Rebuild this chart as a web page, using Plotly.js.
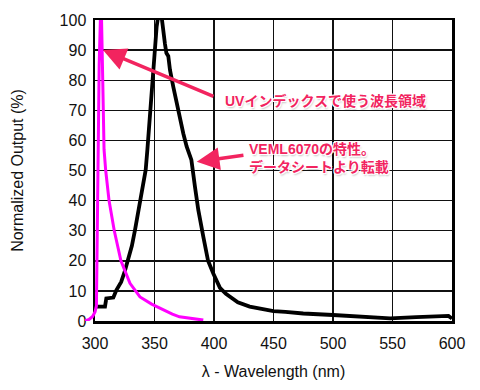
<!DOCTYPE html>
<html>
<head>
<meta charset="utf-8">
<script src="https://cdn.plot.ly/plotly-3.0.1.min.js"></script>
<style>html,body{margin:0;padding:0;background:#fff;}#chart{width:480px;height:390px;}</style>
</head>
<body>
<div id="chart"></div>
<script>
// VEML6070 spectral response (black)
const vemlWavelength = [300, 308.4, 309.5, 315.4, 318, 322, 325, 328, 331, 333.6, 336, 337.8, 340.6, 342.6, 344, 345, 346, 349, 351.8, 353, 356, 358.8, 360, 361.6, 363, 365.8, 368.6, 371.4, 374.2, 377, 381, 384, 386.8, 391, 395, 399.4, 405, 410, 415, 420, 430, 440, 450, 460, 475, 500, 525, 548, 570, 592, 597, 600];
const vemlOutput = [4.8, 4.8, 7.5, 7.8, 10.3, 13, 16.5, 20.3, 25, 30.2, 35.5, 40.2, 45.7, 50.2, 56.8, 62, 70, 86.7, 97.8, 101, 101, 92, 89, 88, 83.4, 77.8, 72.3, 67.9, 62.3, 58, 53.5, 44.6, 36.9, 28, 20, 15.8, 11, 9, 7.5, 6.2, 4.8, 3.9, 3.3, 3, 2.5, 2, 1.4, 0.9, 1.3, 1.8, 1.7, 0.8];
// UV index weighting region (magenta)
const uvWavelength = [291.6, 295, 298, 300, 301.2, 301.6, 302, 302.5, 303.5, 304.5, 305.5, 306.5, 307.6, 309, 311.8, 316.2, 321.8, 329.4, 337.8, 347.6, 357, 365, 371, 380, 391];
const uvOutput = [0, 0.5, 1.5, 3, 5, 20, 40, 57, 85, 100, 100, 80, 57, 50, 40, 30, 20, 12.5, 8, 5.6, 3.7, 2.3, 1.4, 0.8, 0.3];
const xTicks = [300, 350, 400, 450, 500, 550, 600];
const yTicks = [0, 10, 20, 30, 40, 50, 60, 70, 80, 90, 100];

const pink = '#f2245f';
const outline = 'white 1px 1px 0px, white -1px -1px 0px, white 1px -1px 0px, white -1px 1px 0px, rgba(0,0,0,0.25) 1px 2px 2px';
const annFont = {family: '"Liberation Sans", "Noto Sans CJK JP", sans-serif', size: 14, color: pink, weight: 'bold', shadow: outline};

// plot pixels: left margin 80, main axis starts 15px to the right
const W = 480 - 80 - 28;
const xScale = W - 15; // px for 300 nm
const x2Start = 300 - 15 * 300 / xScale;

const data = [
  {x: vemlWavelength, y: vemlOutput, type: 'scatter', mode: 'lines', line: {color: '#000', width: 3.8}, xaxis: 'x', yaxis: 'y', hoverinfo: 'skip'},
  {x: uvWavelength, y: uvOutput, type: 'scatter', mode: 'lines', line: {color: '#ff00ff', width: 3}, xaxis: 'x2', yaxis: 'y2', hoverinfo: 'skip'}
];

const axFont = {family: '"Liberation Sans", Arial, sans-serif', size: 16, color: '#111'};

const layout = {
  width: 480, height: 390,
  margin: {l: 80, r: 28, t: 20, b: 69},
  paper_bgcolor: '#fff', plot_bgcolor: 'rgba(0,0,0,0)',
  showlegend: false,
  font: axFont,
  xaxis: {
    domain: [15 / W, 1], range: [300, 600], tickvals: xTicks, ticktext: xTicks.map(String),
    showgrid: true, gridcolor: '#111', gridwidth: 1.4, zeroline: false,
    showline: true, linecolor: '#000', linewidth: 2.5, mirror: true,
    ticks: 'outside', ticklen: 6, tickcolor: 'rgba(0,0,0,0)', tickfont: axFont,
    title: {text: 'λ - Wavelength (nm)', font: axFont, standoff: 15}, anchor: 'y'
  },
  yaxis: {
    domain: [0, 1], range: [0, 100], tickvals: yTicks, ticktext: yTicks.map(String),
    showgrid: true, gridcolor: '#111', gridwidth: 1.4, zeroline: false,
    showline: true, linecolor: '#000', linewidth: 2.5, mirror: true,
    ticks: 'outside', ticklen: 3, tickcolor: 'rgba(0,0,0,0)', tickfont: axFont,
    title: {text: 'Normalized Output (%)', font: axFont, standoff: 32}, anchor: 'x'
  },
  xaxis2: {domain: [0, 1], range: [x2Start, 600], visible: false, anchor: 'y2', fixedrange: true},
  yaxis2: {domain: [0, 1], range: [0, 100], visible: false, anchor: 'x2', fixedrange: true},
  annotations: [
    {x: 306.7, y: 90, xref: 'x', yref: 'y', ax: 400.8, ay: 74.4, axref: 'x', ayref: 'y', text: '', showarrow: true, arrowhead: 2, arrowsize: 1.3, arrowwidth: 3.5, arrowcolor: pink},
    {x: 385.5, y: 52.9, xref: 'x', yref: 'y', ax: 426, ay: 55.1, axref: 'x', ayref: 'y', text: '', showarrow: true, arrowhead: 2, arrowsize: 1.3, arrowwidth: 3.5, arrowcolor: pink},
    {x: 407.6, y: 73.2, xref: 'x', yref: 'y', xanchor: 'left', yanchor: 'middle', text: 'UVインデックスで使う波長領域', showarrow: false, font: annFont},
    {x: 427.7, y: 54.3, xref: 'x', yref: 'y', xanchor: 'left', yanchor: 'middle', align: 'left', text: 'VEML6070の特性。<br>データシートより転載', showarrow: false, font: annFont}
  ]
};

Plotly.newPlot('chart', data, layout, {staticPlot: true, displayModeBar: false});
</script>
</body>
</html>
